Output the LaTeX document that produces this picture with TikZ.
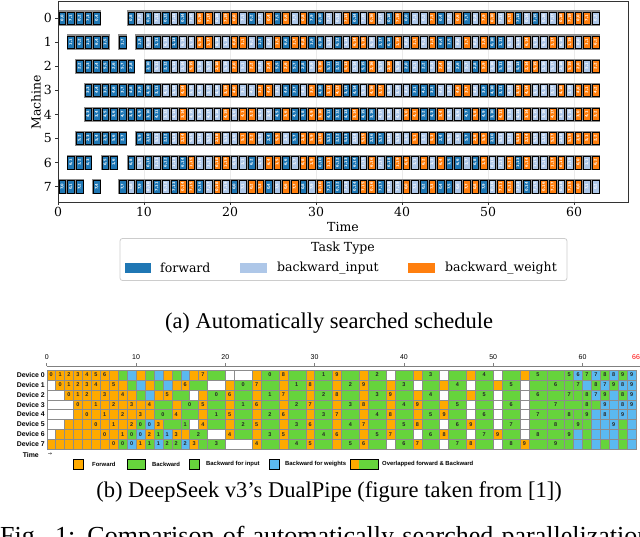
\documentclass[tikz,border=0pt]{standalone}
\usepackage{fontspec}
\setmainfont{Liberation Serif}
\newfontfamily\mplfont{DejaVu Serif}
\newfontfamily\lblfont{DejaVu Sans}
\newfontfamily\dpfont{Liberation Sans}
\definecolor{tcF}{HTML}{1F77B4}
\definecolor{tcB}{HTML}{AEC7E8}
\definecolor{tcW}{HTML}{FF7F0E}
\definecolor{dco}{HTML}{FFAA00}
\definecolor{dcg}{HTML}{66D43C}
\definecolor{dcb}{HTML}{5BB9F0}
\definecolor{dcw}{HTML}{FFFFFF}
\definecolor{gridc}{HTML}{EBEBEB}
\tikzset{
  segbg/.style={fill=black!45},
  tbox/.style={draw=black, line width=0.45pt},
  tlab/.style={font=\lblfont\bfseries\fontsize{3.6}{3.6}\selectfont, text=white, rotate=90, inner sep=0pt},
  dcell/.style={draw=black!45, line width=0.3pt},
  dlab/.style={font=\dpfont\bfseries\fontsize{5.5}{5.5}\selectfont, text=black!85, inner sep=0pt},
  mpl/.style={font=\mplfont\fontsize{12.5}{12.5}\selectfont, inner sep=0pt},
  captext/.style={font=\fontsize{22.5}{22.5}\selectfont, inner sep=0pt, anchor=base},
  devlab/.style={font=\dpfont\bfseries\fontsize{6.9}{6.9}\selectfont, anchor=east, inner sep=0pt},
  leglab/.style={font=\dpfont\bfseries\fontsize{5.9}{5.9}\selectfont, anchor=west, inner sep=0pt},
  legpatch/.style={draw=black, line width=0.4pt},
}
\newcommand\tseg[4]{%
  \fill[segbg] ({58+8.6*#2},{18+24.1*#1-7.6}) rectangle ({58+8.6*#3},{18+24.1*#1+7.6});
  \foreach \tp [count=\ti from 0] in {#4}{%
    \pgfmathtruncatemacro\sa{mod(\ti,2)==0 ? #1 : 7-#1}%
    \pgfmathtruncatemacro\sb{mod(\ti+#2,20)}%
    \draw[tbox, fill=tc\tp] ({58+8.6*(#2+\ti)+1},{18+24.1*#1-6.2}) rectangle ({58+8.6*(#2+\ti+1)-1},{18+24.1*#1+6.2});
    \node[tlab] at ({58+8.6*(#2+\ti)+4.3},{18+24.1*#1}) {\sa,\sb};
  }%
}
\newcommand\drow[2]{%
  \foreach \ta/\tb/\tp/\tl in {#2}{%
    \draw[dcell, fill=dc\tp] ({46.7+8.93*\ta},{375+9.86*#1-4.93}) rectangle ({46.7+8.93*\tb},{375+9.86*#1+4.93});
    \node[dlab] at ({46.7+8.93*(\ta+\tb)/2},{375+9.86*#1}) {\tl};
  }%
}
\begin{document}
\begin{tikzpicture}[x=1pt,y=-1pt]
\useasboundingbox (0,0) rectangle (640,537);
\clip (0,0) rectangle (640,537);
\fill[white] (0,0) rectangle (640,537);
% ---------- top chart ----------
\foreach \t in {10,20,...,60}{\draw[gridc, line width=0.8pt] ({58+8.6*\t},1) -- ({58+8.6*\t},202);}
\tseg{0}{0}{5}{F,F,F,F,F}
\tseg{0}{8}{63}{F,B,F,B,F,B,F,B, W,W,B,W,W,B,F,B, W,F,W,B,W,F,F,B, B,W,F,B,W,B,F,W, F,B,B,W,F,B,W,F, B,W,W,B,W,F,B,F, B,B,W,W,W,W,B}
\tseg{1}{1}{6}{F,F,F,F,F}
\tseg{1}{7}{8}{F}
\tseg{1}{9}{63}{F,B,F,B,F,B,B,W, W,B,B,W,W,B,F,B, W,F,W,W,F,F,B,F, B,W,W,B,F,F,W,B, W,B,W,F,F,B,W,B, W,F,F,B,B,W,B,B, W,B,W,B,W,W}
\tseg{2}{2}{9}{F,F,F,F,F,F,F}
\tseg{2}{10}{63}{F,B,F,B,B,W,B,B, W,B,W,B,W,B,W,F, W,F,F,B,W,F,F,W, B,F,W,B,W,B,F,B, F,B,W,B,F,B,F,W, B,F,B,F,W,W,B,B, B,W,W,B,W}
\tseg{3}{3}{63}{F,F,F,F,F,F,F,F, F,B,B,W,B,B,B,B, W,W,B,B,W,W,B,F, F,B,W,F,W,W,F,F, B,W,W,B,B,B,F,F, F,B,B,W,W,B,F,F, F,B,W,W,B,B,B,W, B,W,W,W}
\tseg{4}{3}{63}{F,F,F,F,F,F,F,F, F,B,B,W,B,B,B,B, W,B,W,W,B,B,F,W, F,F,W,W,F,F,F,W, F,F,B,B,B,W,W,F, F,W,B,B,F,W,F,F, W,B,B,W,B,B,W,B, B,W,W,W}
\tseg{5}{2}{8}{F,F,F,F,F,F}
\tseg{5}{9}{63}{F,F,B,F,B,W,B,B, B,W,B,B,W,W,B,F, W,B,F,W,W,W,F,F, F,B,W,F,F,B,B,B, W,B,W,F,B,B,F,W, W,F,B,B,W,W,B,B, W,B,W,W,W,W}
\tseg{6}{1}{4}{F,F,F}
\tseg{6}{5}{7}{F,F}
\tseg{6}{8}{63}{F,B,F,B,F,B,F,W, B,B,W,W,B,B,F,B, W,W,F,B,W,W,F,W, F,F,F,B,W,B,F,W, W,B,W,B,W,F,F,B, F,W,B,B,W,F,W,B, B,W,W,B,W,B,W}
\tseg{7}{0}{3}{F,F,F}
\tseg{7}{4}{5}{F}
\tseg{7}{7}{63}{F,B,F,B,F,B,F,W, W,F,B,W,B,F,B,W, W,F,B,W,W,F,B,W, F,F,B,F,W,W,F,B, B,W,B,F,W,F,F,B, W,W,F,B,W,W,B,F, B,W,W,B,W,W,B,B}
\draw[black!80, line width=0.8pt] (58,1) rectangle (628,202);
\foreach \r in {0,...,7}{
  \draw[black!80, line width=0.8pt] (58,{18+24.1*\r}) -- (54.5,{18+24.1*\r});
  \node[mpl, anchor=east] at (52,{18+24.1*\r}) {\r};
}
\foreach \t in {0,10,...,60}{
  \draw[black!80, line width=0.8pt] ({58+8.6*\t},202) -- ({58+8.6*\t},205.5);
  \node[mpl, anchor=north] at ({58+8.6*\t},207.5) {\t};
}
\node[mpl, rotate=90] (ylab) at (36,102) {Machine};
\node[mpl] (xlab) at (343,227) {Time};
% legend
\draw[black!20, line width=0.8pt, rounded corners=2.5pt, fill=white] (120,238.5) rectangle (567,280.5);
\node[mpl] (legtitle) at (343,248.5) {Task Type};
\fill[tcF] (124.5,263) rectangle (151,273);
\node[mpl, anchor=west] (l1) at (160,268) {forward};
\fill[tcB] (240,263) rectangle (266.5,273);
\node[mpl, anchor=west] (l2) at (277,268) {backward\_input};
\fill[tcW] (408,263) rectangle (434.5,273);
\node[mpl, anchor=west] (l3) at (445,268) {backward\_weight};
\node[captext] (capa) at (329,329) {(a) Automatically searched schedule};
% ---------- bottom chart ----------
\draw[black!50, line width=0.6pt] (46.7,366) -- (640,366);
\foreach \t in {0,10,...,60}{
  \draw[black!50, line width=0.6pt] ({46.7+8.93*\t},366) -- ({46.7+8.93*\t},363);
  \node[font=\dpfont\fontsize{7}{7}\selectfont, inner sep=0pt] at ({46.7+8.93*\t},357) {\t};
}
\node[font=\dpfont\fontsize{7}{7}\selectfont, inner sep=0pt, text=red] at (636,357) {66};
\foreach \d in {0,...,7}{\node[devlab] at (45,{375+9.86*\d}) {Device \d};}
\drow{0}{0/1/o/0, 1/2/o/1, 2/3/o/2, 3/4/o/3, 4/5/o/4, 5/6/o/5, 6/7/o/6, 7/8/o/~, 8/9/g/~, 9/10/b/~, 10/11/o/~, 11/12/g/~, 12/13/b/~, 13/14/o/~, 14/15/g/~, 15/16/b/~, 16/17/o/~, 17/18/o/7, 18/20/g/~, 20/21/w/~, 21/23/w/~, 23/24/o/~, 24/26/g/0, 26/27/o/8, 27/29/g/~, 29/30/o/~, 30/32/g/1, 32/33/o/9, 33/35/g/~, 35/36/o/~, 36/38/g/2, 38/39/w/~, 39/41/g/~, 41/42/o/~, 42/44/g/3, 44/45/w/~, 45/47/g/~, 47/48/o/~, 48/50/g/4, 50/51/w/~, 51/53/g/~, 53/54/o/~, 54/56/g/5, 56/58/g/~, 58/59/g/5, 59/60/b/6, 60/61/g/7, 61/62/b/7, 62/63/g/8, 63/64/b/8, 64/65/g/9, 65/66/b/9}
\drow{1}{0/1/w/~, 1/2/o/0, 2/3/o/1, 3/4/o/2, 4/5/o/3, 5/6/o/4, 6/7/o/~, 7/8/o/5, 8/9/o/~, 9/10/g/~, 10/11/b/~, 11/12/o/~, 12/13/g/~, 13/14/b/~, 14/15/o/~, 15/16/o/6, 16/18/g/~, 18/20/w/~, 20/21/o/~, 21/23/g/0, 23/24/o/7, 24/26/g/~, 26/27/o/~, 27/29/g/1, 29/30/o/8, 30/32/g/~, 32/33/o/~, 33/35/g/2, 35/36/o/9, 36/38/g/~, 38/39/o/~, 39/41/g/3, 41/42/w/~, 42/44/g/~, 44/45/o/~, 45/47/g/4, 47/48/w/~, 48/50/g/~, 50/51/o/~, 51/53/g/5, 53/54/w/~, 54/56/g/~, 56/58/g/6, 58/59/g/~, 59/60/g/7, 60/61/b/~, 61/62/g/8, 62/63/b/7, 63/64/g/9, 64/65/b/8, 65/66/b/9}
\drow{2}{0/2/w/~, 2/3/o/0, 3/4/o/1, 4/5/o/2, 5/6/o/~, 6/7/o/3, 7/8/o/~, 8/9/o/4, 9/10/o/~, 10/11/g/~, 11/12/b/~, 12/13/o/~, 13/14/o/5, 14/16/g/~, 16/17/w/~, 17/18/o/~, 18/20/g/0, 20/21/o/6, 21/23/g/~, 23/24/o/~, 24/26/g/1, 26/27/o/7, 27/29/g/~, 29/30/o/~, 30/32/g/2, 32/33/o/8, 33/35/g/~, 35/36/o/~, 36/38/g/3, 38/39/o/9, 39/41/g/~, 41/42/o/~, 42/44/g/4, 44/45/w/~, 45/47/g/~, 47/48/o/~, 48/50/g/5, 50/51/w/~, 51/53/g/~, 53/54/w/~, 54/56/g/6, 56/58/g/~, 58/59/g/7, 59/60/g/~, 60/61/g/8, 61/62/b/7, 62/63/g/9, 63/64/b/~, 64/65/g/8, 65/66/b/9}
\drow{3}{0/3/w/~, 3/4/o/0, 4/5/o/~, 5/6/o/1, 6/7/o/~, 7/8/o/2, 8/9/o/~, 9/10/o/3, 10/11/o/~, 11/12/o/4, 12/14/g/~, 14/15/o/~, 15/17/g/0, 17/18/o/5, 18/20/g/~, 20/21/o/~, 21/23/g/1, 23/24/o/6, 24/26/g/~, 26/27/o/~, 27/29/g/2, 29/30/o/7, 30/32/g/~, 32/33/o/~, 33/35/g/3, 35/36/o/8, 36/38/g/~, 38/39/o/~, 39/41/g/4, 41/42/o/9, 42/44/g/~, 44/45/o/~, 45/47/g/5, 47/48/w/~, 48/50/g/~, 50/51/w/~, 51/53/g/6, 53/54/w/~, 54/56/g/~, 56/58/g/7, 58/60/g/~, 60/61/g/8, 61/62/g/~, 62/63/b/9, 63/64/b/~, 64/65/b/8, 65/66/b/9}
\drow{4}{0/3/w/~, 3/4/o/~, 4/5/o/0, 5/6/o/~, 6/7/o/1, 7/8/o/~, 8/9/o/2, 9/10/o/~, 10/11/o/3, 11/12/o/~, 12/14/g/0, 14/15/o/4, 15/17/g/~, 17/18/o/~, 18/20/g/1, 20/21/o/5, 21/23/g/~, 23/24/o/~, 24/26/g/2, 26/27/o/6, 27/29/g/~, 29/30/o/~, 30/32/g/3, 32/33/o/7, 33/35/g/~, 35/36/o/~, 36/38/g/4, 38/39/o/8, 39/41/g/~, 41/42/o/~, 42/44/g/5, 44/45/o/9, 45/47/g/~, 47/48/w/~, 48/50/g/6, 50/51/w/~, 51/53/g/~, 53/54/w/~, 54/56/g/7, 56/58/g/~, 58/59/g/8, 59/60/g/~, 60/61/g/9, 61/62/b/~, 62/63/b/8, 63/64/b/~, 64/65/b/9, 65/66/b/~}
\drow{5}{0/2/w/~, 2/3/o/~, 3/4/o/~, 4/5/o/~, 5/6/o/0, 6/7/o/~, 7/8/o/1, 8/9/o/~, 9/10/o/2, 10/11/g/0, 11/12/b/0, 12/13/o/3, 13/15/g/~, 15/16/g/1, 16/17/w/~, 17/18/o/4, 18/20/g/~, 20/21/o/~, 21/23/g/2, 23/24/o/5, 24/26/g/~, 26/27/o/~, 27/29/g/3, 29/30/o/6, 30/32/g/~, 32/33/o/~, 33/35/g/4, 35/36/o/7, 36/38/g/~, 38/39/o/~, 39/41/g/5, 41/42/o/8, 42/44/g/~, 44/45/w/~, 45/47/g/6, 47/48/o/9, 48/50/g/~, 50/51/w/~, 51/53/g/7, 53/54/w/~, 54/56/g/~, 56/58/g/8, 58/59/g/~, 59/60/g/9, 60/61/g/~, 61/62/b/~, 62/63/b/~, 63/64/b/9, 64/65/g/~, 65/66/b/~}
\drow{6}{0/1/w/~, 1/2/o/~, 2/3/o/~, 3/4/o/~, 4/5/o/~, 5/6/o/~, 6/7/o/0, 7/8/o/~, 8/9/o/1, 9/10/g/0, 10/11/b/0, 11/12/o/2, 12/13/g/1, 13/14/b/1, 14/15/o/3, 15/16/o/~, 16/18/g/2, 18/20/w/~, 20/21/o/4, 21/23/g/~, 23/24/o/~, 24/26/g/3, 26/27/o/5, 27/29/g/~, 29/30/o/~, 30/32/g/4, 32/33/o/6, 33/35/g/~, 35/36/o/~, 36/38/g/5, 38/39/o/7, 39/41/g/~, 41/42/w/~, 42/44/g/6, 44/45/o/8, 45/47/g/~, 47/48/w/~, 48/50/g/7, 50/51/o/9, 51/53/g/~, 53/54/w/~, 54/56/g/8, 56/58/g/~, 58/59/g/9, 59/60/b/~, 60/61/g/~, 61/62/b/~, 62/63/b/~, 63/64/b/~, 64/65/g/~, 65/66/b/~}
\drow{7}{0/1/o/~, 1/2/o/~, 2/3/o/~, 3/4/o/~, 4/5/o/~, 5/6/o/~, 6/7/o/~, 7/8/o/0, 8/9/g/0, 9/10/b/0, 10/11/o/1, 11/12/g/1, 12/13/b/1, 13/14/g/2, 14/15/g/2, 15/16/b/2, 16/17/o/3, 17/18/g/~, 18/20/g/3, 20/23/w/~, 23/24/o/4, 24/26/g/~, 26/27/o/~, 27/29/g/4, 29/30/o/5, 30/32/g/~, 32/33/o/~, 33/35/g/5, 35/36/o/6, 36/38/g/~, 38/39/w/~, 39/41/g/6, 41/42/o/7, 42/44/g/~, 44/45/w/~, 45/47/g/7, 47/48/o/8, 48/50/g/~, 50/51/w/~, 51/53/g/8, 53/54/o/9, 54/56/g/~, 56/58/g/9, 58/59/g/~, 59/60/b/~, 60/61/g/~, 61/62/b/~, 62/63/g/~, 63/64/b/~, 64/65/g/~, 65/66/b/~}
\node[font=\dpfont\bfseries\fontsize{6.9}{6.9}\selectfont, anchor=east, inner sep=0pt] (timelab) at (39,455) {Time};
\node[font=\lblfont\fontsize{5}{5}\selectfont, inner sep=0pt] (timearr) at (50,454) {→};
% bottom legend
\draw[legpatch, fill=dco] (72.7,459) rectangle (82.7,469);
\node[leglab] at (92,464) {Forward};
\draw[legpatch, fill=dcg] (127,459) rectangle (145,469);
\node[leglab] at (152,464) {Backward};
\draw[legpatch, fill=dcg] (189,459) rectangle (199,469);
\node[leglab] at (206,464) {Backward for input};
\draw[legpatch, fill=dcb] (269,459) rectangle (279,469);
\node[leglab] at (285,464) {Backward for weights};
\fill[dco] (350,459) rectangle (359,469);
\fill[dcg] (359,459) rectangle (378,469);
\draw[legpatch] (350,459) rectangle (378,469);
\node[leglab] at (382,464) {Overlapped forward \& Backward};
\node[captext] (capb) at (329,497) {(b) DeepSeek v3's DualPipe (figure taken from [1])};
\node[font=\fontsize{26}{26}\selectfont, inner sep=0pt, anchor=base west] (figline) at (0,544) {\makebox[650pt][s]{Fig. 1: Comparison of automatically searched parallelization}};
\end{tikzpicture}
\end{document}
